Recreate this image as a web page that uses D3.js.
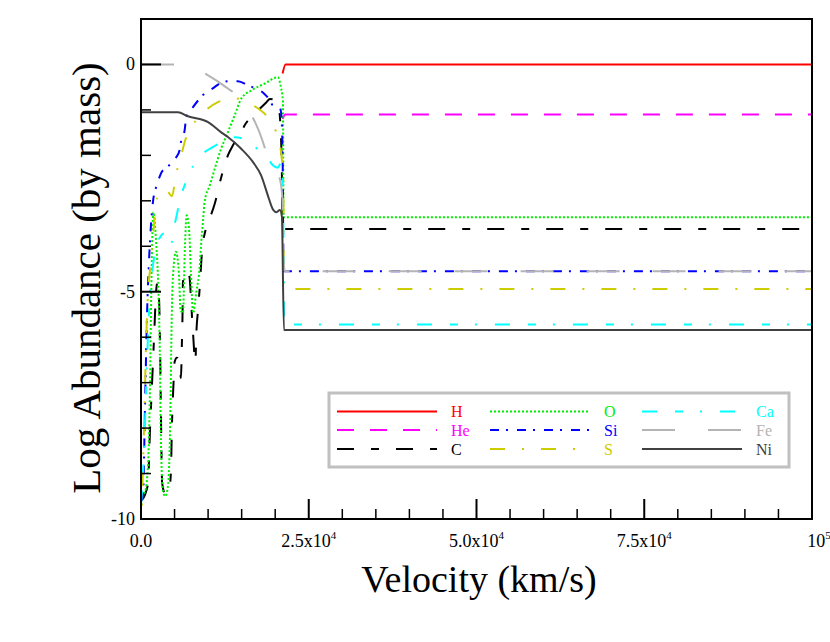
<!DOCTYPE html>
<meta charset="utf-8">
<head>
<script src="https://d3js.org/d3.v7.min.js"></script>
<style>
body { margin: 0; background: #fff; }
text { font-family: "Liberation Serif", "Times New Roman", serif; }
</style>
</head>
<body>
<svg id="chart"></svg>
<script>
// velocity (km/s), log abundance by mass
var H  = [[21100,-0.2],[21550,0],[100000,0]];
var He = [[21100,-1.2],[21500,-1.1],[100000,-1.1]];
var C  = [[0,-9.6],[750,-9.4],[1050,-9.2],[1350,-8.0],[1650,-7.0],[1950,-6.0],[2250,-5.0],[2450,-4.8],[2700,-5.2],
          [2850,-6.3],[3000,-8.0],[3150,-9.2],[3600,-9.45],[4150,-9.4],[4450,-9.0],[4600,-8.0],[4850,-7.0],[5000,-6.55],
          [5350,-6.45],[5750,-6.6],[5950,-6.9],[6100,-6.1],[6200,-5.4],[6250,-4.8],[6550,-4.55],[6950,-4.55],[7250,-4.7],
          [7500,-5.3],[7750,-5.9],[8100,-6.55],[8250,-5.9],[8500,-5.4],[8800,-4.8],[9000,-4.3],[9250,-3.9],[9500,-3.72],
          [10000,-3.45],[10500,-3.28],[11000,-3.06],[11750,-2.6],[12950,-2.0],[13700,-1.78],[14750,-1.55],[15450,-1.34],
          [17000,-1.08],[18700,-0.83],[19200,-0.76],[19950,-0.78],[20450,-0.9],[20700,-1.15],[20950,-2.0],[21150,-3.62],
          [100000,-3.62]];
var O  = [[0,-9.5],[600,-9.4],[1050,-8.8],[1350,-7.0],[1550,-4.8],[1850,-3.25],[2250,-3.9],[2600,-5.0],[2800,-6.3],
          [3000,-8.5],[3300,-9.4],[3600,-9.5],[4000,-9.3],[4400,-7.5],[4500,-6.3],[4750,-4.7],[5200,-4.12],[5650,-4.6],
          [5900,-5.4],[6250,-5.47],[6550,-4.0],[6800,-3.32],[7150,-3.6],[7450,-4.6],[7750,-5.47],[8250,-5.0],[8750,-4.45],
          [9000,-3.87],[9250,-3.43],[9500,-3.0],[10250,-2.66],[11000,-2.29],[11950,-1.85],[12950,-1.49],[13950,-1.12],
          [14950,-0.75],[16450,-0.57],[18450,-0.42],[20400,-0.28],[20850,-0.5],[21150,-0.8],[21250,-3.36],[100000,-3.36]];
var Si = [[0,-9.6],[300,-9.5],[600,-7.5],[900,-5.5],[1200,-4.3],[1500,-3.5],[1800,-3.0],[2250,-2.7],[2700,-2.5],
          [3150,-2.35],[3700,-2.3],[4300,-2.2],[5250,-2.04],[5750,-1.89],[6000,-1.67],[6500,-1.45],[6750,-1.16],
          [7750,-0.94],[8750,-0.75],[9250,-0.67],[10750,-0.52],[11950,-0.4],[12950,-0.37],[14450,-0.37],[15950,-0.46],
          [16950,-0.52],[18200,-0.62],[19200,-0.79],[19650,-0.9],[20650,-0.94],[20900,-1.08],[21100,-2.0],[21250,-4.55],
          [100000,-4.55]];
var S  = [[0,-10.4],[450,-8.0],[750,-6.2],[1050,-5.0],[1350,-4.5],[1650,-4.0],[1950,-3.5],[2550,-2.85],[3300,-2.75],
          [4000,-2.8],[4600,-2.9],[5250,-2.4],[6000,-2.0],[6500,-1.71],[7750,-1.33],[9500,-1.03],[11450,-0.83],
          [12950,-0.76],[14200,-0.75],[15500,-0.8],[16700,-0.9],[17750,-1.0],[18650,-1.12],[19650,-1.35],[20650,-1.7],
          [21000,-2.1],[21200,-2.4],[21300,-4.94],[100000,-4.94]];
var Ca = [[0,-9.7],[450,-8.5],[900,-6.5],[1350,-5.0],[1800,-4.4],[2250,-4.0],[2850,-3.8],[3400,-3.72],[3850,-3.8],
          [4450,-3.98],[4900,-3.6],[5350,-3.3],[5950,-2.88],[6400,-2.7],[7300,-2.35],[8200,-2.15],[8950,-2.0],
          [10700,-1.82],[12050,-1.7],[13250,-1.63],[14000,-1.6],[15500,-1.65],[16850,-1.8],[18050,-1.95],[18950,-2.07],
          [19650,-2.22],[20400,-2.27],[20900,-2.15],[21150,-2.8],[21350,-5.72],[100000,-5.72]];
var Fe = [[0,0],[5050,0],[6550,-0.02],[8050,-0.08],[10000,-0.24],[11200,-0.35],[12950,-0.53],[14000,-0.64],
          [15500,-0.9],[17000,-1.27],[18050,-1.65],[18650,-1.93],[19250,-2.2],[20650,-2.5],[21150,-3.1],[21200,-4.2],
          [21450,-4.55],[100000,-4.55]];
var Ni = [[0,-1.05],[5500,-1.05],[7000,-1.14],[10000,-1.27],[12000,-1.5],[13000,-1.6],[14900,-1.85],[16700,-2.15],
          [17900,-2.44],[18900,-2.88],[19400,-3.1],[19700,-3.2],[20200,-3.25],[20700,-3.2],[21000,-3.35],[21300,-5.84],
          [100000,-5.84]];

var species = [
  {name: "H",  data: H,  color: "#ff0000", dash: null},
  {name: "He", data: He, color: "#ff00ff", dash: "17,16"},
  {name: "C",  data: C,  color: "#000000", dash: "17,17,8,17"},
  {name: "O",  data: O,  color: "#00ee00", dash: "2,2"},
  {name: "Si", data: Si, color: "#0000ff", dash: "9,7,2,9"},
  {name: "S",  data: S,  color: "#cccc00", dash: "15,17,2,17"},
  {name: "Ca", data: Ca, color: "#00ffff", dash: "15,18,8,17,2,18"},
  {name: "Fe", data: Fe, color: "#b4b4b4", dash: "33,33"},
  {name: "Ni", data: Ni, color: "#404040", dash: null}
];

var xTicks = [0, 25000, 50000, 75000, 100000];
var xTickLabels = [["0.0",""], ["2.5x10","4"], ["5.0x10","4"], ["7.5x10","4"], ["10","5"]];
var yTicks = [0, -5, -10];

var width = 830, height = 642;
var pl = 141, pr = 812, pt = 19, pb = 519;

var svg = d3.select("#chart").attr("width", width).attr("height", height);

var x = d3.scaleLinear().domain([0, 100000]).range([pl, pr]);
var y = d3.scaleLinear().domain([-10, 1]).range([pb, pt]);

svg.append("clipPath").attr("id", "clip")
  .append("rect").attr("x", pl).attr("y", pt).attr("width", pr - pl).attr("height", pb - pt);

var line = d3.line()
  .x(function(d) { return x(d[0]); })
  .y(function(d) { return y(d[1]); })
  .curve(d3.curveMonotoneX);

var plot = svg.append("g").attr("clip-path", "url(#clip)");
species.forEach(function(s) {
  plot.append("path")
    .attr("d", line(s.data))
    .attr("fill", "none")
    .attr("stroke", s.color)
    .attr("stroke-width", 2)
    .attr("stroke-dasharray", s.dash);
});

// frame
svg.append("rect")
  .attr("x", pl).attr("y", pt).attr("width", pr - pl).attr("height", pb - pt)
  .attr("fill", "none").attr("stroke", "#000").attr("stroke-width", 2);

// ticks pointing inward
d3.range(0, 100001, 5000).forEach(function(v) {
  var major = v % 25000 === 0;
  svg.append("line")
    .attr("x1", x(v)).attr("x2", x(v))
    .attr("y1", pb).attr("y2", pb - (major ? 20 : 10))
    .attr("stroke", "#000").attr("stroke-width", major ? 2 : 1.5);
});
d3.range(-10, 1, 1).forEach(function(v) {
  var major = v % 5 === 0;
  svg.append("line")
    .attr("x1", pl).attr("x2", pl + (major ? 20 : 10))
    .attr("y1", y(v)).attr("y2", y(v))
    .attr("stroke", "#000").attr("stroke-width", major ? 2 : 1.5);
});

xTicks.forEach(function(v, i) {
  var t = svg.append("text")
    .attr("x", x(v) + (i === xTicks.length - 1 ? 7 : 0)).attr("y", 547)
    .attr("text-anchor", "middle").attr("font-size", 18);
  t.append("tspan").text(xTickLabels[i][0]);
  if (xTickLabels[i][1])
    t.append("tspan").attr("dy", -8).attr("font-size", 11).text(xTickLabels[i][1]);
});

yTicks.forEach(function(v) {
  svg.append("text")
    .attr("x", 135).attr("y", y(v) + 6)
    .attr("text-anchor", "end").attr("font-size", 18)
    .text(v);
});

svg.append("text")
  .attr("x", 479).attr("y", 592)
  .attr("text-anchor", "middle").attr("font-size", 38)
  .text("Velocity (km/s)");

svg.append("text")
  .attr("transform", "translate(100,278) rotate(-90)")
  .attr("text-anchor", "middle").attr("font-size", 41)
  .text("Log Abundance (by mass)");

// legend
var legend = svg.append("g");
legend.append("rect")
  .attr("x", 329).attr("y", 393).attr("width", 460).attr("height", 74)
  .attr("fill", "#fff").attr("stroke", "#c0c0c0").attr("stroke-width", 3);

var colX = [337, 490, 642];
var rowY = [411.5, 430, 449];
species.forEach(function(s, i) {
  var cx = colX[Math.floor(i / 3)], cy = rowY[i % 3];
  legend.append("line")
    .attr("x1", cx).attr("x2", cx + 100)
    .attr("y1", cy).attr("y2", cy)
    .attr("stroke", s.color).attr("stroke-width", 2)
    .attr("stroke-dasharray", s.dash);
  legend.append("text")
    .attr("x", cx + 114).attr("y", cy + 5.5)
    .attr("font-size", 16).attr("fill", s.color)
    .text(s.name);
});
</script>
</body>
